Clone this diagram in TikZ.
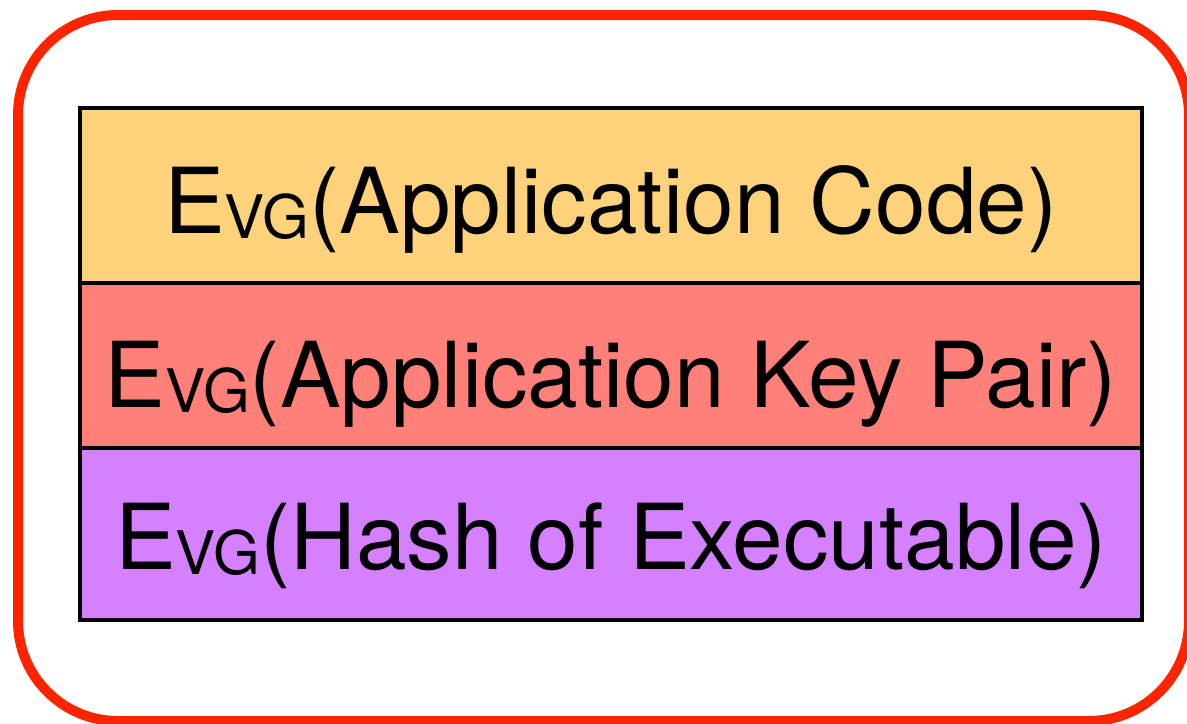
\documentclass[tikz,border=0pt]{standalone}
\usepackage{fontspec}
\setmainfont{TeX Gyre Heros}

\definecolor{codeclr}{RGB}{253,210,122}
\definecolor{keyclr}{RGB}{255,127,121}
\definecolor{hashclr}{RGB}{213,128,255}
\definecolor{frameclr}{RGB}{255,36,0}

\newcommand{\evg}{E\raisebox{-2.5pt}{\fontsize{30}{32}\selectfont VG}}

\tikzset{
  layer/.style={draw=black,line width=2pt},
  label/.style={anchor=base,font=\fontsize{45.5}{48}\selectfont},
}

\begin{document}
\begin{tikzpicture}[x=0.5pt,y=-0.5pt]
      \useasboundingbox (0,0) rectangle (1187,723);
      \draw[frameclr,line width=5pt,rounded corners=50pt] (18,15) rectangle (1189,721);

      \draw[layer,fill=codeclr] (80,108) rectangle ++(1062,175);
      \draw[layer,fill=keyclr] (80,283) rectangle ++(1062,165);
      \draw[layer,fill=hashclr] (80,448) rectangle ++(1062,172);

      \node[label] (code) at (611,233) {\evg(Application Code)};
      \node[label] (key) at (611,407) {\evg(Application Key Pair)};
      \node[label] (hash) at (611,569) {\evg(Hash of Executable)};
    \end{tikzpicture}
\end{document}
